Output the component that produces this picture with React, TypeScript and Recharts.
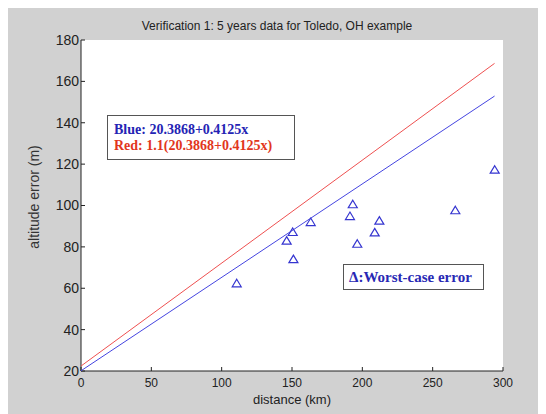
import React from 'react';
import { ScatterChart, Scatter, XAxis, YAxis, CartesianGrid } from 'recharts';

const xTicks = [0, 50, 100, 150, 200, 250, 300];
const yTicks = [20, 40, 60, 80, 100, 120, 140, 160, 180];

const distances = [110.7, 151.0, 146.2, 150.5, 163.3, 193.2, 191.2, 196.4, 212.1, 208.8, 266.1, 294.1];
const errors = [62.4, 74.1, 83.0, 87.2, 92.0, 100.6, 94.9, 81.5, 92.7, 87.0, 97.7, 117.3];

const lineX = [0, 294];
const blueY = [20.1, 152.9];
const redY = [22.4, 168.7];

const points = distances.map((x, i) => ({ x, y: errors[i] }));
const blueLine = lineX.map((x, i) => ({ x, y: blueY[i] }));
const redLine = lineX.map((x, i) => ({ x, y: redY[i] }));

const SANS = '"Liberation Sans", Arial, sans-serif';
const SERIF = '"Liberation Serif", "Times New Roman", serif';

const Triangle = (props: any) => {
  const { cx, cy } = props;
  if (cx == null || cy == null) return <g />;
  const d = `M${cx},${cy - 4} L${cx + 4.5},${cy + 3.5} L${cx - 4.5},${cy + 3.5} Z`;
  return <path d={d} fill="none" stroke="#3535d0" strokeWidth={1.2} />;
};

const NoShape = () => <g />;

export default function App() {
  return (
    <div style={{ position: 'relative', width: 538, height: 407, marginTop: -1, background: '#d1d1d1' }}>
      <ScatterChart width={538} height={407} margin={{ top: 33, right: 43, left: 13, bottom: 13 }}>
        <CartesianGrid fill="#ffffff" horizontal={false} vertical={false} />
        <XAxis
          type="number"
          dataKey="x"
          domain={[0, 300]}
          ticks={xTicks}
          height={30}
          tickSize={-4}
          tickMargin={11}
          axisLine={{ stroke: '#222' }}
          tickLine={{ stroke: '#222' }}
          tick={{ fill: '#222', fontSize: 12, fontFamily: SANS }}
          interval={0}
        />
        <YAxis
          type="number"
          dataKey="y"
          domain={[20, 180]}
          ticks={yTicks}
          width={60}
          tickSize={-4}
          tickMargin={6}
          axisLine={{ stroke: '#222' }}
          tickLine={{ stroke: '#222' }}
          tick={{ fill: '#222', fontSize: 14, fontFamily: SANS }}
          interval={0}
        />
        <Scatter data={redLine} line={{ stroke: '#ee5050', strokeWidth: 1 }} shape={NoShape} isAnimationActive={false} />
        <Scatter data={blueLine} line={{ stroke: '#4545e0', strokeWidth: 1 }} shape={NoShape} isAnimationActive={false} />
        <Scatter data={points} shape={Triangle} isAnimationActive={false} />
      </ScatterChart>
      <svg width={538} height={407} style={{ position: 'absolute', left: 0, top: 0, pointerEvents: 'none' }}>
        <text x={269} y={23} textAnchor="middle" fontSize={12} fontFamily={SANS} fill="#222">
          Verification 1: 5 years data for Toledo, OH example
        </text>
        <text x={284} y={397} textAnchor="middle" fontSize={13} fontFamily={SANS} fill="#222">
          distance (km)
        </text>
        <text x={31} y={190} textAnchor="middle" fontSize={14} fontFamily={SANS} fill="#333" transform="rotate(-90, 31, 190)">
          altitude error (m)
        </text>
        <rect x={99.5} y={108.5} width={187} height={44} fill="#ffffff" stroke="#555" strokeWidth={1} />
        <text x={106} y={127} fontSize={14} fontWeight="bold" fontFamily={SERIF} fill="#2424b4">
          Blue: 20.3868+0.4125x
        </text>
        <text x={106} y={143} fontSize={14} fontWeight="bold" fontFamily={SERIF} fill="#e2361c">
          Red: 1.1(20.3868+0.4125x)
        </text>
        <rect x={335.5} y={257.5} width={140} height={25} fill="#ffffff" stroke="#555" strokeWidth={1} />
        <text x={341} y={275} fontSize={15} fontWeight="bold" fontFamily={SERIF} fill="#2828b4">
          Δ:Worst-case error
        </text>
      </svg>
    </div>
  );
}
